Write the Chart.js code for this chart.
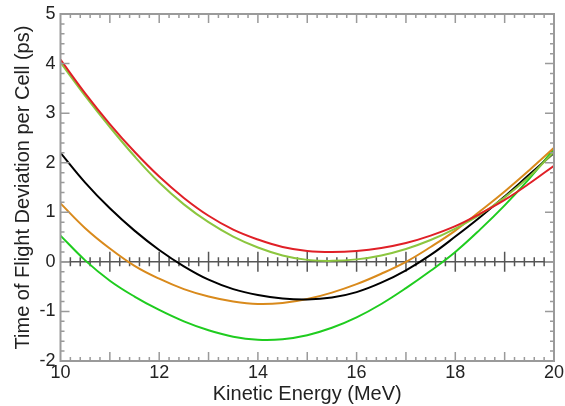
<!DOCTYPE html>
<html>
<head>
<meta charset="utf-8">
<script src="https://cdn.jsdelivr.net/npm/chart.js@4"></script>
<style>
html,body{margin:0;padding:0;background:#fff;}
#wrap{width:565px;height:406px;}
</style>
</head>
<body>
<div id="wrap"><canvas id="c" width="565" height="406"></canvas></div>
<script>
const energy = [10,10.5,11,11.5,12,12.5,13,13.5,14,14.5,15,15.5,16,16.5,17,17.5,18,18.5,19,19.5,20];
const redSeries    = [4.08,3.40,2.78,2.22,1.72,1.29,0.93,0.65,0.45,0.30,0.22,0.20,0.22,0.28,0.38,0.53,0.72,0.97,1.25,1.58,1.94];
const oliveSeries  = [4.02,3.35,2.72,2.13,1.60,1.16,0.80,0.51,0.29,0.13,0.04,0.02,0.05,0.13,0.26,0.44,0.67,0.95,1.30,1.72,2.22];
const blackSeries  = [2.20,1.60,1.08,0.63,0.24,-0.09,-0.36,-0.55,-0.67,-0.74,-0.76,-0.72,-0.61,-0.42,-0.17,0.14,0.51,0.90,1.32,1.76,2.20];
const orangeSeries = [1.18,0.68,0.27,-0.08,-0.34,-0.55,-0.70,-0.80,-0.85,-0.83,-0.75,-0.62,-0.45,-0.24,0.00,0.30,0.63,1.02,1.42,1.85,2.30];
const greenSeries  = [0.53,0.03,-0.38,-0.70,-0.97,-1.20,-1.38,-1.51,-1.57,-1.56,-1.48,-1.33,-1.12,-0.85,-0.53,-0.18,0.20,0.65,1.14,1.68,2.28];
const xTickLabels = ['10','12','14','16','18','20'];
const yTickLabels = ['-2','-1','0','1','2','3','4','5'];

function pts(arr){ return energy.map((e,i)=>({x:e,y:arr[i]})); }
function ds(arr,color){
  return {data:pts(arr),borderColor:color,borderWidth:2,pointRadius:0,fill:false,tension:0.4};
}

const fontFam = '"Liberation Sans", Arial, sans-serif';

const framePlugin = {
  id:'frame',
  beforeDatasetsDraw(chart){
    const {ctx, chartArea:a, scales:{x,y}} = chart;
    const y0 = y.getPixelForValue(0);
    ctx.save();
    ctx.strokeStyle = '#555';
    ctx.lineWidth = 1.5;
    ctx.beginPath();
    ctx.moveTo(a.left,y0); ctx.lineTo(a.right,y0);
    for(let k=1;k<50;k++){
      const px = x.getPixelForValue(10 + k*0.2);
      const h = (k%5===0)?10:4.5;
      ctx.moveTo(px,y0-h); ctx.lineTo(px,y0+h);
    }
    ctx.stroke();
    ctx.restore();
  },
  afterDatasetsDraw(chart){
    const {ctx, chartArea:a, scales:{x,y}} = chart;
    ctx.save();
    ctx.strokeStyle = '#9a9a9a';
    ctx.lineWidth = 1.5;
    ctx.beginPath();
    for(let k=1;k<50;k++){
      const px = x.getPixelForValue(10 + k*0.2);
      const h = (k%5===0)?9:4;
      ctx.moveTo(px,a.top); ctx.lineTo(px,a.top+h);
      ctx.moveTo(px,a.bottom); ctx.lineTo(px,a.bottom-h);
    }
    for(let k=1;k<35;k++){
      const py = y.getPixelForValue(-2 + k*0.2);
      const h = (k%5===0)?9:4;
      ctx.moveTo(a.left,py); ctx.lineTo(a.left+h,py);
      ctx.moveTo(a.right,py); ctx.lineTo(a.right-h,py);
    }
    ctx.stroke();
    ctx.lineWidth = 2;
    ctx.strokeRect(a.left,a.top,a.right-a.left,a.bottom-a.top);
    ctx.restore();
  }
};

new Chart(document.getElementById('c'),{
  type:'line',
  data:{datasets:[
    ds(redSeries,'#e02027'),
    ds(oliveSeries,'#8cc63f'),
    ds(blackSeries,'#000000'),
    ds(orangeSeries,'#d98a1c'),
    ds(greenSeries,'#1fcc1f')
  ]},
  options:{
    responsive:false,
    animation:false,
    events:[],
    layout:{padding:{left:0,right:11,top:14,bottom:0}},
    plugins:{legend:{display:false},tooltip:{enabled:false}},
    scales:{
      x:{
        type:'linear',min:10,max:20,
        afterFit(s){ s.height = 45; s.paddingLeft = 0; s.paddingRight = 0; },
        afterBuildTicks(s){ s.ticks = xTickLabels.map(t=>({value:Number(t)})); },
        ticks:{color:'#222',padding:1,maxRotation:0,font:{family:fontFam,size:18},callback:(v)=>xTickLabels.find(t=>Number(t)===v)},
        grid:{display:false,drawTicks:false},
        border:{display:false},
        title:{display:true,text:'Kinetic Energy (MeV)',color:'#222',font:{family:fontFam,size:20},padding:{top:0,bottom:0}}
      },
      y:{
        type:'linear',min:-2,max:5,
        afterFit(s){ s.width = 60.5; s.paddingTop = 0; s.paddingBottom = 0; },
        afterBuildTicks(s){ s.ticks = yTickLabels.map(t=>({value:Number(t)})); },
        ticks:{color:'#222',padding:5,font:{family:fontFam,size:18},callback:(v)=>yTickLabels.find(t=>Number(t)===v)},
        grid:{display:false,drawTicks:false},
        border:{display:false},
        title:{display:true,text:'Time of Flight Deviation per Cell (ps)',color:'#222',font:{family:fontFam,size:20},padding:{top:11,bottom:0}}
      }
    }
  },
  plugins:[framePlugin]
});
</script>
</body>
</html>
